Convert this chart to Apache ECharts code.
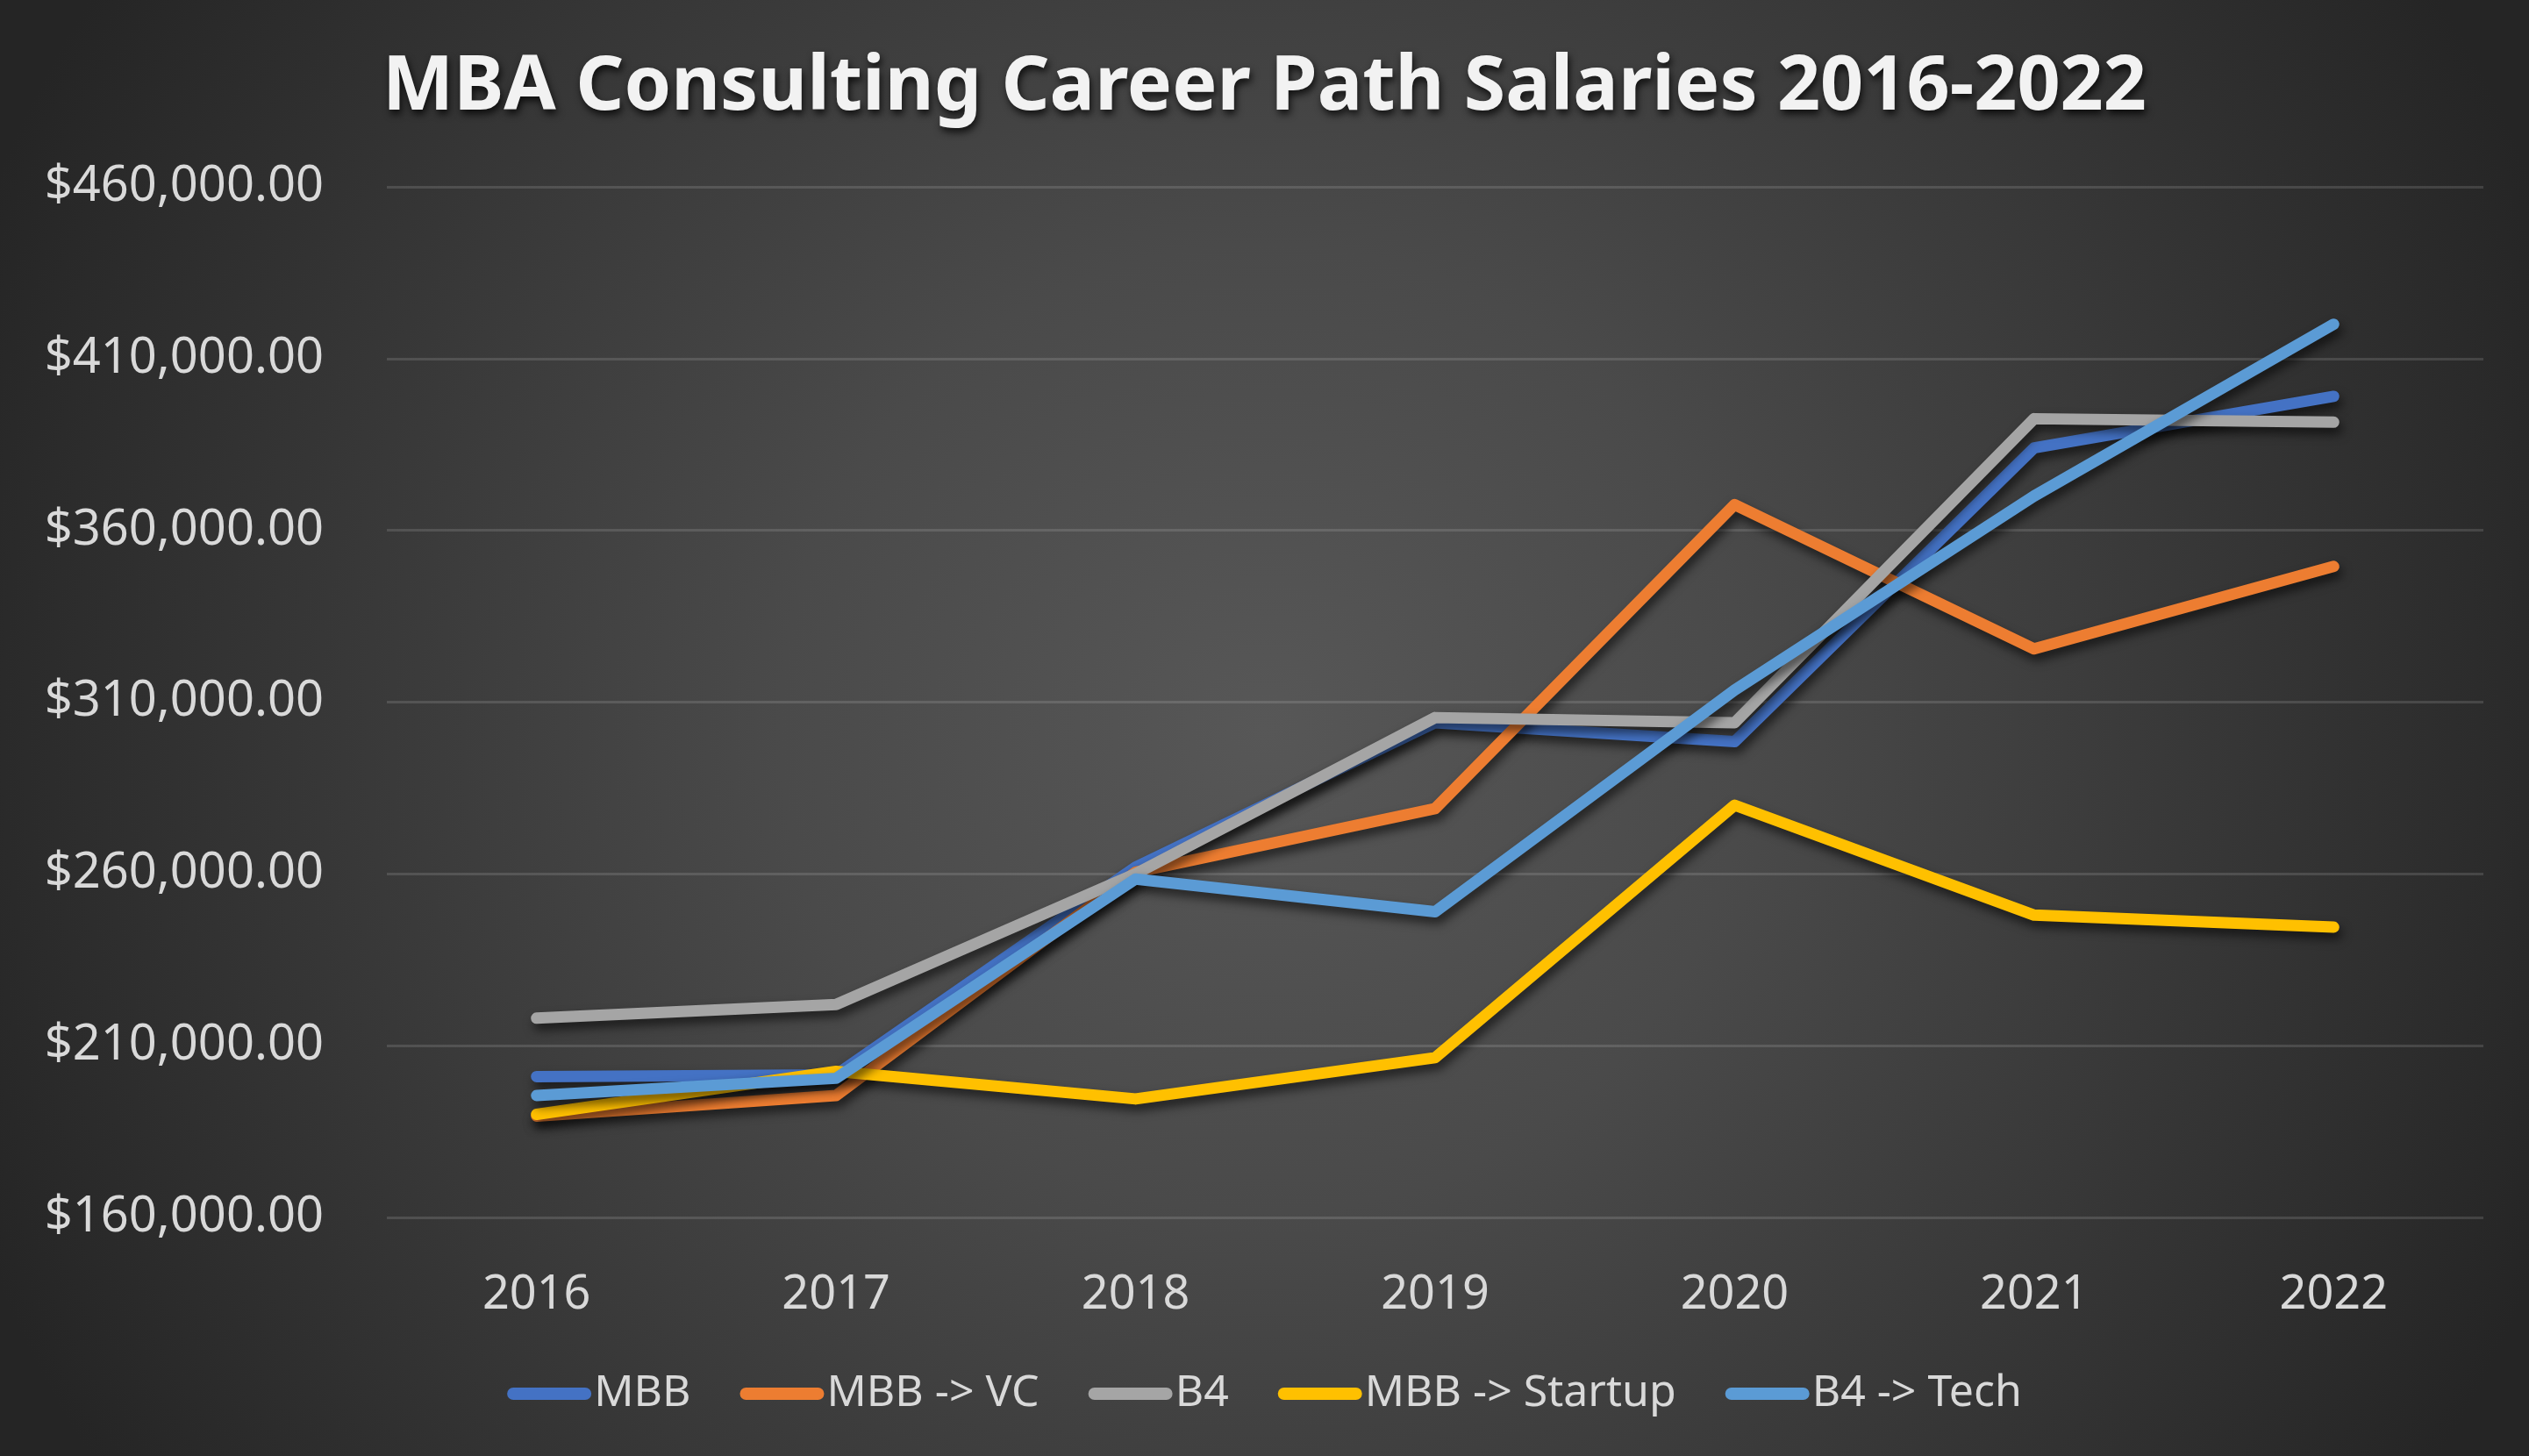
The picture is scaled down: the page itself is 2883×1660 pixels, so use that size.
<!DOCTYPE html>
<html>
<head>
<meta charset="utf-8">
<script src="https://cdn.jsdelivr.net/npm/echarts@6/dist/echarts.min.js"></script>
<style>
html,body{margin:0;padding:0;background:#2b2b2b;}
#chart{width:2883px;height:1660px;}
</style>
</head>
<body>
<div id="chart"></div>
<script>
const years = ['2016','2017','2018','2019','2020','2021','2022'];
const mbb      = [201000, 201500, 262000, 304000, 298500, 384000, 399000];
const mbbVc    = [189500, 195500, 260500, 279000, 367500, 325500, 349500];
const b4       = [218000, 222000, 260000, 305500, 304000, 392500, 391500];
const mbbStart = [190000, 202500, 194500, 206500, 280000, 248000, 244500];
const b4Tech   = [195500, 200500, 258500, 249000, 313500, 370000, 420000];
const yTicks = [160000, 210000, 260000, 310000, 360000, 410000, 460000];

const seriesNames = ['MBB', 'MBB -> VC', 'B4', 'MBB -> Startup', 'B4 -> Tech'];
const seriesData = [mbb, mbbVc, b4, mbbStart, b4Tech];
const colors = ['#4472C4', '#ED7D31', '#A5A5A5', '#FFC000', '#5B9BD5'];

const chart = echarts.init(document.getElementById('chart'));
const font = '"Noto Sans", "Open Sans", sans-serif';

chart.setOption({
  backgroundColor: new echarts.graphic.RadialGradient(0.5, 0.5, 0.95, [
    {offset: 0, color: '#575757'},
    {offset: 0.35, color: '#4a4a4a'},
    {offset: 1, color: '#252525'}
  ]),
  animation: false,
  color: colors,
  title: {
    text: 'MBA Consulting Career Path Salaries 2016-2022',
    left: 'center',
    top: 52,
    textStyle: {
      color: '#f2f2f2',
      fontFamily: font,
      fontWeight: 'bold',
      fontSize: 86,
      textShadowColor: 'rgba(0,0,0,0.75)',
      textShadowBlur: 8,
      textShadowOffsetX: 2,
      textShadowOffsetY: 5
    }
  },
  grid: {left: 441, right: 52, top: 213, bottom: 272, containLabel: false},
  legend: {
    data: seriesNames,
    left: 'center',
    top: 1559,
    itemWidth: 96,
    itemHeight: 14,
    itemGap: 56,
    icon: 'path://M7,0 L89,0 A7,7 0 0 1 89,14 L7,14 A7,7 0 0 1 7,0 Z',
    textStyle: {color: '#d9d9d9', fontSize: 50, fontFamily: font, padding: [0,0,0,-2]}
  },
  xAxis: {
    type: 'category',
    data: years,
    boundaryGap: true,
    axisLine: {show: false},
    axisTick: {show: false},
    axisLabel: {color: '#d9d9d9', fontSize: 54, fontFamily: font, margin: 62}
  },
  yAxis: {
    type: 'value',
    min: yTicks[0],
    max: yTicks[yTicks.length - 1],
    interval: yTicks[1] - yTicks[0],
    axisLine: {show: false},
    axisTick: {show: false},
    splitLine: {lineStyle: {color: 'rgba(255,255,255,0.13)', width: 3}},
    axisLabel: {
      color: '#d9d9d9', fontSize: 56, fontFamily: font, margin: 72,
      formatter: v => '$' + v.toLocaleString('en-US', {minimumFractionDigits: 2, maximumFractionDigits: 2})
    }
  },
  series: seriesNames.map((name, i) => ({
    name: name,
    type: 'line',
    data: seriesData[i],
    symbol: 'none',
    lineStyle: {
      width: 13,
      color: colors[i],
      cap: 'round',
      join: 'round',
      shadowColor: 'rgba(0,0,0,0.6)',
      shadowBlur: 12,
      shadowOffsetX: 3,
      shadowOffsetY: 7
    },
    itemStyle: {color: colors[i]}
  }))
});
</script>
</body>
</html>
